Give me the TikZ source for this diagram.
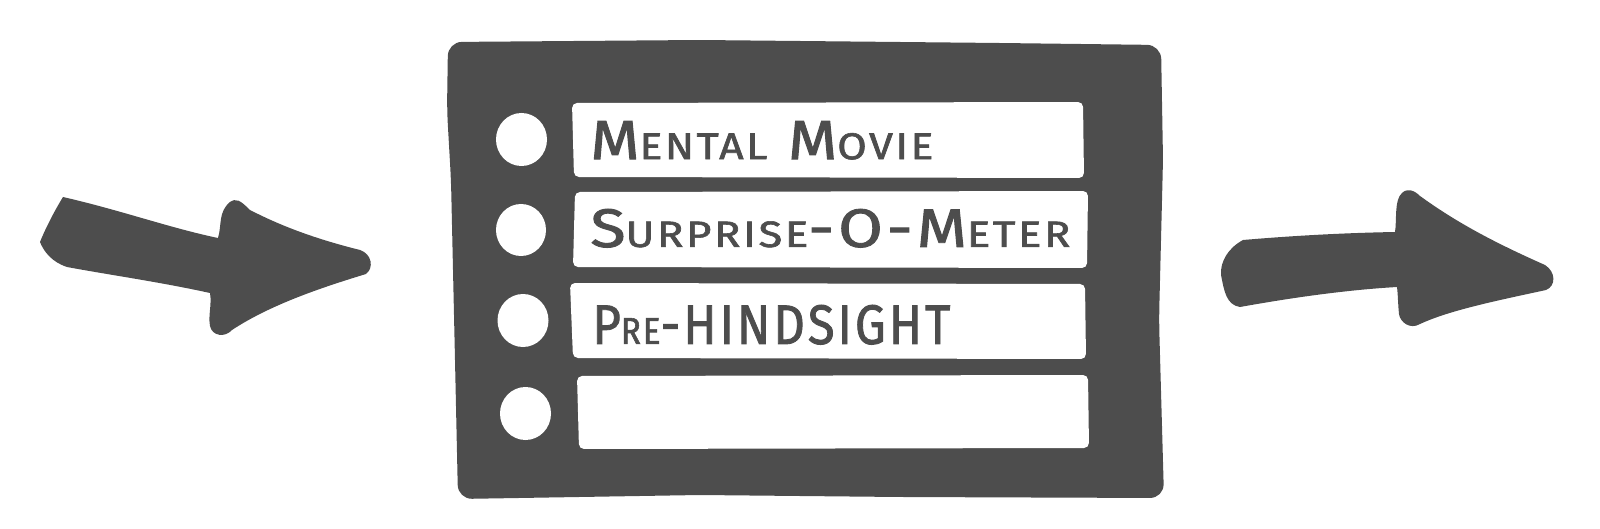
\documentclass[tikz,border=0pt]{standalone}
\usepackage{fontspec}
\usepackage{graphicx}
\newfontfamily\handfont[LetterSpace=6, FakeBold=1.6]{Fira Sans}
\definecolor{ink}{RGB}{77,77,77}
\newcommand\smc[1]{{\fontsize{13.5}{14}\selectfont #1}}
\begin{document}
\begin{tikzpicture}[x=0.5pt,y=-0.5pt,
  board/.style={fill=ink},
  strip/.style={fill=white, rounded corners=2.5},
  hole/.style={fill=white},
  label/.style={inner sep=0pt, text=ink, font=\handfont\fontsize{20}{22}\selectfont},
  arrowshape/.style={fill=ink}]
\useasboundingbox (0,0) rectangle (1600,529);

% board
\fill[board, rounded corners=7] (448,42) -- (700,40) -- (1000,43) -- (1161,45)
  -- (1163,160) -- (1159,320) -- (1164,498) -- (900,497) -- (700,495) -- (458,499)
  -- (455,360) -- (451,180) -- (447,110) -- cycle;

% strips
\fill[strip] (572,103) -- (1083,102) -- (1084,178) -- (574,177) -- cycle;
\fill[strip] (575,192) -- (1088,191) -- (1087,268) -- (573,267) -- cycle;
\fill[strip] (570,283) -- (1085,284) -- (1086,359) -- (573,358) -- cycle;
\fill[strip] (577,376) -- (1088,375) -- (1089,448) -- (579,449) -- cycle;

% holes
\fill[hole] (521.5,139.5) ellipse [x radius=25.5, y radius=26.5];
\fill[hole] (521,230) ellipse [x radius=25, y radius=26];
\fill[hole] (523,320.5) ellipse [x radius=25.5, y radius=26.5];
\fill[hole] (525.5,413.5) ellipse [x radius=25.5, y radius=26.5];

% labels
\node[label, anchor=south west] (t1) at (590,160)
  {\resizebox{171.5pt}{19pt}{M\smc{ENTAL} M\smc{OVIE}}};
\node[label, anchor=south west] (t2) at (590,248)
  {\resizebox{240pt}{19pt}{S\smc{URPRISE}-O-M\smc{ETER}}};
\node[label, anchor=south west] (t3) at (592,345)
  {\resizebox{179pt}{19.5pt}{P\smc{RE}-HINDSIGHT}};

% left arrow
\fill[arrowshape] (63,197) .. controls (120,210) and (170,228) .. (218,238)
  .. controls (222,225) and (218,212) .. (230,202)
  .. controls (236,198) and (240,200) .. (250,210)
  .. controls (285,228) and (320,240) .. (360,250)
  .. controls (372,254) and (374,268) .. (366,274)
  .. controls (320,288) and (270,305) .. (232,330)
  .. controls (225,338) and (212,336) .. (210,326)
  .. controls (208,315) and (212,305) .. (210,293)
  .. controls (160,282) and (110,275) .. (67,267)
  .. controls (52,262) and (44,252) .. (40,242)
  .. controls (44,232) and (52,215) .. (63,197) -- cycle;

% right arrow
\fill[arrowshape] (1243,240) .. controls (1290,236) and (1340,233) .. (1395,232)
  .. controls (1397,220) and (1394,200) .. (1402,193)
  .. controls (1407,188) and (1414,190) .. (1420,196)
  .. controls (1460,225) and (1500,245) .. (1545,265)
  .. controls (1556,272) and (1556,286) .. (1546,290)
  .. controls (1500,300) and (1450,310) .. (1420,324)
  .. controls (1410,330) and (1400,322) .. (1399,314)
  .. controls (1398,305) and (1398,295) .. (1397,287)
  .. controls (1345,290) and (1290,298) .. (1240,307)
  .. controls (1226,305) and (1224,290) .. (1221,275)
  .. controls (1220,262) and (1228,248) .. (1243,240) -- cycle;
\end{tikzpicture}
\end{document}
